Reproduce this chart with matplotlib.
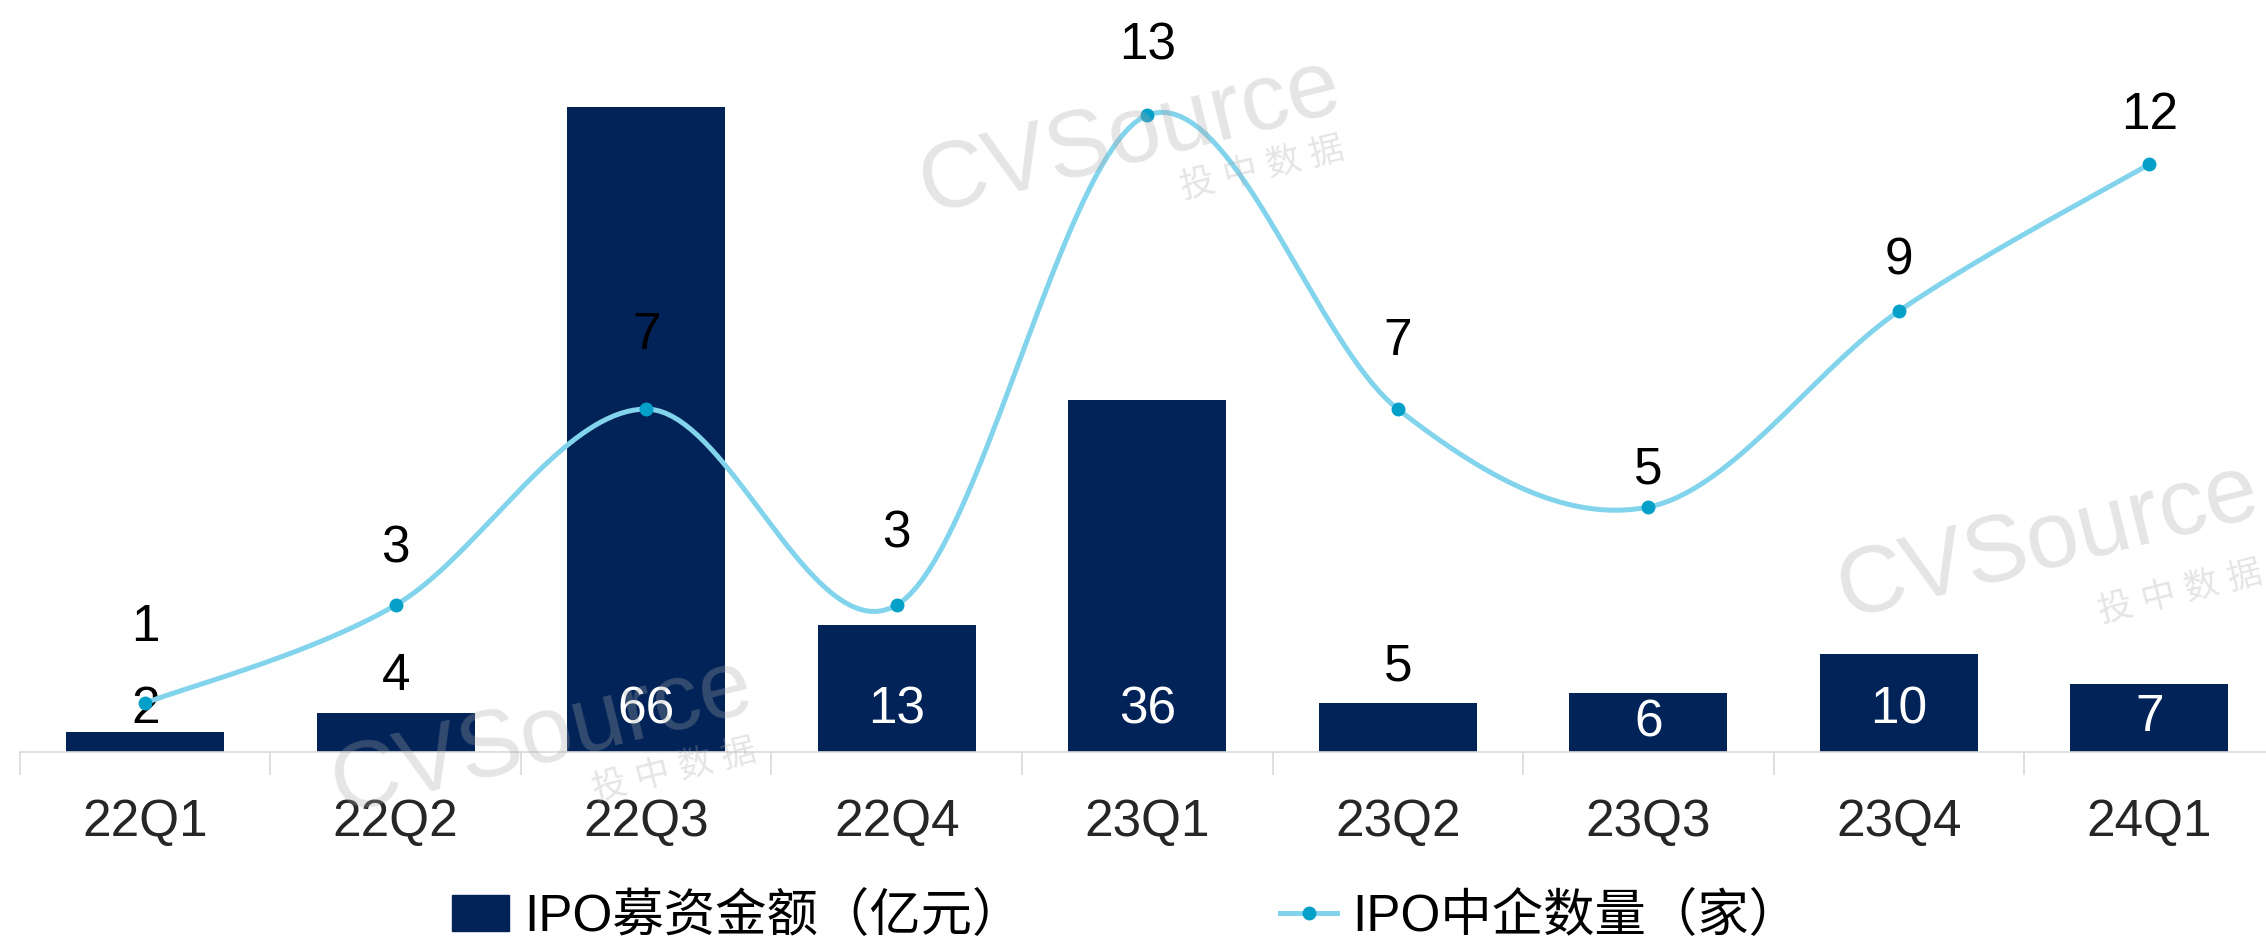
"""IPO募资金额 vs IPO中企数量, 22Q1-24Q1 (bar + smoothed line, twin axes)."""
import matplotlib
matplotlib.use("Agg")
import matplotlib.pyplot as plt
import numpy as np
from matplotlib.lines import Line2D
from matplotlib.patches import Patch

plt.rcParams["font.family"] = ["Liberation Sans", "Noto Sans CJK SC", "DejaVu Sans"]

quarters = ["22Q1", "22Q2", "22Q3", "22Q4", "23Q1", "23Q2", "23Q3", "23Q4", "24Q1"]
amount = [2, 4, 66, 13, 36, 5, 6, 10, 7]          # IPO募资金额（亿元）
count = [1, 3, 7, 3, 13, 7, 5, 9, 12]             # IPO中企数量（家）

BAR_C = "#022358"
LINE_C = "#82d3ec"
DOT_C = "#05a0c8"
FS = 37
# label offsets above each line point (points), as placed in the original
label_dy = [54, 40, 53, 51, 50, 49, 27, 36, 35]


def smooth(xs, ys, n=40):
    # Excel-style smoothed line: cubic Bezier with Catmull-Rom control points
    xs, ys = np.asarray(xs, float), np.asarray(ys, float)
    px, py = [], []
    for i in range(len(xs) - 1):
        i0, i3 = max(i - 1, 0), min(i + 2, len(xs) - 1)
        p0, p1 = np.array([xs[i], ys[i]]), np.array([xs[i + 1], ys[i + 1]])
        c1 = p0 + (np.array([xs[i + 1], ys[i + 1]]) - np.array([xs[i0], ys[i0]])) / 6
        c2 = p1 - (np.array([xs[i3], ys[i3]]) - np.array([xs[i], ys[i]])) / 6
        t = np.linspace(0, 1, n)[:, None]
        seg = ((1 - t) ** 3) * p0 + 3 * ((1 - t) ** 2) * t * c1 + 3 * (1 - t) * t ** 2 * c2 + t ** 3 * p1
        px.extend(seg[:, 0]); py.extend(seg[:, 1])
    return np.array(px), np.array(py)


fig = plt.figure(figsize=(22.66, 9.49), dpi=100)
ax = fig.add_axes([0.0088, 0.2076, 0.995, 0.7924])
ax2 = ax.twinx()

x = np.arange(len(quarters))
ax.bar(x, amount, 0.63, color=BAR_C, zorder=2)
ax.set_xlim(-0.5, len(quarters) - 0.5)
ax.set_ylim(0, 76.9)
ax2.set_ylim(0, 15.35)

for xi, v in zip(x, amount):
    if v >= 6:
        ax.text(xi, min(v / 2, 4.3), str(v), ha="center", va="center",
                fontsize=FS, color="white", zorder=3)
    else:
        ax.text(xi, max(v + 3.7, 4.3) if v > 2 else 4.3, str(v), ha="center",
                va="center", fontsize=FS, color="black", zorder=3)

sx, sy = smooth(x, count)
ax2.plot(sx, sy, color=LINE_C, lw=3.6, zorder=3, solid_capstyle="round")
ax2.plot(x, count, "o", color=DOT_C, ms=9, zorder=4)
for xi, c, dy in zip(x, count, label_dy):
    ax2.annotate(str(c), (xi, c), xytext=(0, dy), textcoords="offset points",
                 ha="center", va="center", fontsize=FS, color="black")

# axes styling: only a light grey baseline with category separators
for a in (ax, ax2):
    for s in a.spines.values():
        s.set_visible(False)
ax.spines["bottom"].set_visible(True)
ax.spines["bottom"].set_color("#d9d9d9")
ax.spines["bottom"].set_linewidth(1.2)
ax.set_yticks([])
ax2.set_yticks([])
ax.set_xticks(x)
ax.set_xticklabels(quarters, fontsize=FS, color="#262626")
ax.tick_params(axis="x", which="major", length=0, pad=33)
ax.set_xticks(np.arange(-0.5, len(quarters), 1), minor=True)
ax.tick_params(axis="x", which="minor", length=16.5, width=1.2, color="#d9d9d9")

# CVSource watermarks
for (cx, cy), (tx, ty) in [((1130, 137), (1262, 168)),
                           ((2048, 542), (2180, 592)),
                           ((542, 737), (674, 770))]:
    fig.text(cx / 2266, 1 - cy / 949, "CVSource", fontsize=68, color="#a8a8a8",
             alpha=0.3, rotation=14, ha="center", va="center", zorder=10)
    fig.text(tx / 2266, 1 - ty / 949, "投 中 数 据", fontsize=25, color="#a8a8a8",
             alpha=0.3, rotation=14, ha="center", va="center", zorder=10)

handles = [Patch(color=BAR_C),
           Line2D([], [], color=LINE_C, lw=3.6, marker="o", ms=9,
                  markerfacecolor=DOT_C, markeredgecolor=DOT_C)]
fig.legend(handles, ["IPO募资金额（亿元）", "IPO中企数量（家）"], loc="center",
           bbox_to_anchor=(0.497, 0.033), ncol=2, frameon=False, fontsize=FS,
           handlelength=1.1, handletextpad=0.3, columnspacing=5.0)

fig.savefig("out.png", dpi=100)
